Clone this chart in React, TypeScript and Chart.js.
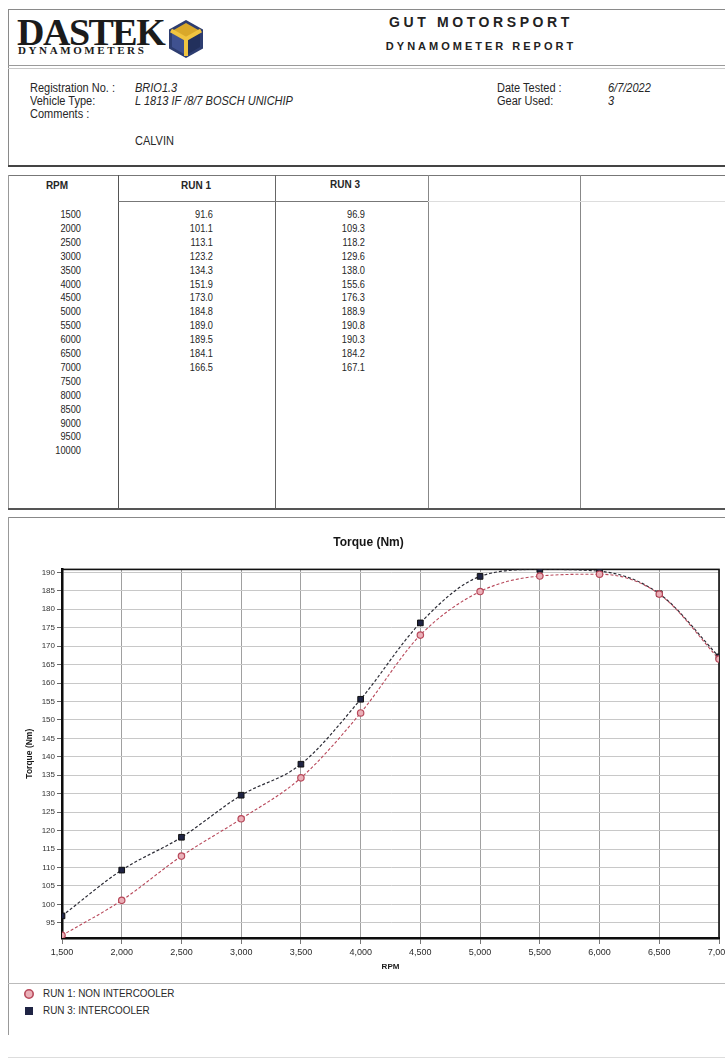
import React, { useEffect, useRef } from "react";
import { Chart, registerables } from "chart.js";

Chart.register(...registerables);

// Torque measurements (Nm) per engine speed
const RPM = [1500, 2000, 2500, 3000, 3500, 4000, 4500, 5000, 5500, 6000, 6500, 7000];
const RUN1_TORQUE = [91.6, 101.1, 113.1, 123.2, 134.3, 151.9, 173.0, 184.8, 189.0, 189.5, 184.1, 166.5];
const RUN3_TORQUE = [96.9, 109.3, 118.2, 129.6, 138.0, 155.6, 176.3, 188.9, 190.8, 190.3, 184.2, 167.1];

// Speed rows listed in the report table
const TABLE_RPM = [1500, 2000, 2500, 3000, 3500, 4000, 4500, 5000, 5500, 6000, 6500, 7000, 7500, 8000, 8500, 9000, 9500, 10000];

// Axis ticks
const X_TICKS = [1500, 2000, 2500, 3000, 3500, 4000, 4500, 5000, 5500, 6000, 6500, 7000];
const X_TICK_LABELS = ["1,500", "2,000", "2,500", "3,000", "3,500", "4,000", "4,500", "5,000", "5,500", "6,000", "6,500", "7,000"];
const Y_TICKS = [95, 100, 105, 110, 115, 120, 125, 130, 135, 140, 145, 150, 155, 160, 165, 170, 175, 180, 185, 190];

const RUN1_LABEL = "RUN 1: NON INTERCOOLER";
const RUN3_LABEL = "RUN 3: INTERCOOLER";

const NARROW = "'Liberation Sans Narrow', 'Liberation Sans', Arial, sans-serif";
const SANS = "'Liberation Sans', Arial, sans-serif";
const SERIF = "'Liberation Serif', 'DejaVu Serif', serif";

const RUN1_LINE = "#b8485a";
const RUN1_FILL = "#eab0b8";
const RUN3_LINE = "#2a2a34";
const RUN3_FILL = "#1f2444";

type TProps = {
  x: number;
  y: number;
  size?: number;
  bold?: boolean;
  italic?: boolean;
  align?: "left" | "right" | "center";
  font?: string;
  spacing?: number;
  color?: string;
  sx?: number;
  children: React.ReactNode;
};

function T({ x, y, size = 11, bold, italic, align = "left", font = NARROW, spacing = 0, color = "#262626", sx = 1, children }: TProps) {
  const tx = align === "left" ? "0" : align === "right" ? "-100%" : "-50%";
  const origin = align === "left" ? "left center" : align === "right" ? "right center" : "center center";
  return (
    <div
      style={{
        position: "absolute",
        left: x,
        top: y,
        transform: `translate(${tx}, -50%)`,
        fontFamily: font,
        fontSize: size,
        fontWeight: bold ? 700 : 400,
        fontStyle: italic ? "italic" : "normal",
        letterSpacing: spacing,
        color,
        whiteSpace: "nowrap",
        lineHeight: 1.2,
      }}
    >
      <div style={{ transform: `scaleX(${sx})`, transformOrigin: origin }}>{children}</div>
    </div>
  );
}

function HLine({ x, y, w, color = "#555", h = 1 }: { x: number; y: number; w: number; color?: string; h?: number }) {
  return <div style={{ position: "absolute", left: x, top: y, width: w, height: h, background: color }} />;
}

function VLine({ x, y, h, color = "#555", w = 1 }: { x: number; y: number; h: number; color?: string; w?: number }) {
  return <div style={{ position: "absolute", left: x, top: y, width: w, height: h, background: color }} />;
}

function Logo() {
  return (
    <>
      <T x={17} y={33} size={38} bold font={SERIF} spacing={-1.5} color="#1b1b1b">
        DASTEK
      </T>
      <T x={18} y={51} size={11} bold font={SERIF} spacing={2.6} color="#1b1b1b">
        DYNAMOMETERS
      </T>
      <svg style={{ position: "absolute", left: 166, top: 19 }} width={40} height={40} viewBox="0 0 40 40">
        <polygon points="20,1 37,10.5 37,29.5 20,39 3,29.5 3,10.5" fill="#2d3d70" />
        <polygon points="20,4 34,12 20,20 6,12" fill="#d9a82a" />
        <polygon points="6,14 18,21 18,35 6,28" fill="#3f5190" />
        <polygon points="34,14 22,21 22,35 34,28" fill="#22305c" />
        <path d="M20 20 L20 37 M20 20 L5 11.5 M20 20 L35 11.5" stroke="#f0c440" strokeWidth={4} fill="none" />
      </svg>
    </>
  );
}

function TorqueChart() {
  const ref = useRef<HTMLCanvasElement | null>(null);

  useEffect(() => {
    if (!ref.current) return;

    const framePlugin = {
      id: "plotFrame",
      beforeDatasetsDraw(chart: any) {
        const { ctx, chartArea } = chart;
        ctx.save();
        ctx.strokeStyle = "#111";
        ctx.lineWidth = 1.6;
        ctx.strokeRect(chartArea.left, chartArea.top, chartArea.right - chartArea.left, chartArea.bottom - chartArea.top);
        ctx.restore();
      },
    };

    const chart = new Chart(ref.current, {
      type: "line",
      data: {
        datasets: [
          {
            label: RUN1_LABEL,
            data: RPM.map((r, i) => ({ x: r, y: RUN1_TORQUE[i] })),
            borderColor: RUN1_LINE,
            borderWidth: 1.1,
            borderDash: [3, 2],
            pointStyle: "circle",
            pointRadius: 3.2,
            pointBorderWidth: 1.2,
            pointBackgroundColor: RUN1_FILL,
            pointBorderColor: RUN1_LINE,
            cubicInterpolationMode: "monotone",
          },
          {
            label: RUN3_LABEL,
            data: RPM.map((r, i) => ({ x: r, y: RUN3_TORQUE[i] })),
            borderColor: RUN3_LINE,
            borderWidth: 1.2,
            borderDash: [3, 2],
            pointStyle: "rect",
            pointRadius: 4,
            pointBorderWidth: 1,
            pointBackgroundColor: RUN3_FILL,
            pointBorderColor: "#111",
            cubicInterpolationMode: "monotone",
          },
        ],
      },
      options: {
        responsive: false,
        animation: false,
        layout: { padding: { left: 18, right: 6, top: 0, bottom: 2 } },
        plugins: {
          legend: { display: false },
          tooltip: { enabled: false },
          title: {
            display: true,
            text: "Torque (Nm)",
            color: "#161616",
            font: { family: SANS, size: 12, weight: "bold" },
            padding: { top: 15, bottom: 20 },
          },
        },
        scales: {
          x: {
            type: "linear",
            min: 1500,
            max: 7000,
            afterBuildTicks: (scale: any) => {
              scale.ticks = X_TICKS.map((v) => ({ value: v }));
            },
            afterFit: (scale: any) => {
              scale.height = 40;
              scale.paddingLeft = 0;
              scale.paddingRight = 0;
            },
            ticks: {
              autoSkip: false,
              maxRotation: 0,
              padding: 3,
              color: "#2a2a2a",
              font: { family: NARROW, size: 9 },
              callback: (v: any) => {
                const i = X_TICKS.indexOf(Number(v));
                return i >= 0 ? X_TICK_LABELS[i] : "";
              },
            },
            grid: { color: "#a0a0a0", lineWidth: 1, tickLength: 6, tickColor: "#777" },
            border: { color: "#000", width: 2.5 },
            title: {
              display: true,
              text: "RPM",
              color: "#1a1a1a",
              font: { family: NARROW, size: 8, weight: "bold" },
              padding: { top: 0, bottom: 6 },
            },
          },
          y: {
            min: 90.9,
            max: 190.8,
            afterBuildTicks: (scale: any) => {
              scale.ticks = Y_TICKS.map((v) => ({ value: v }));
            },
            afterFit: (scale: any) => {
              scale.width = 44;
            },
            ticks: {
              padding: 2,
              color: "#333",
              font: { family: NARROW, size: 8 },
            },
            grid: { color: "#c8c8c8", lineWidth: 1, tickLength: 5, tickColor: "#666" },
            border: { color: "#000", width: 2.5 },
            title: {
              display: true,
              text: "Torque (Nm)",
              color: "#1a1a1a",
              font: { family: NARROW, size: 8.5, weight: "bold" },
              padding: { top: 7, bottom: 2 },
            },
          },
        },
      },
      plugins: [framePlugin],
    } as any);

    return () => chart.destroy();
  }, []);

  return (
    <canvas
      ref={ref}
      width={725}
      height={460}
      style={{ position: "absolute", left: 0, top: 520, width: 725, height: 460 }}
    />
  );
}

export default function App() {
  const rowY = (i: number) => 214 + i * 13.9;
  return (
    <div
      style={{
        position: "absolute",
        left: 0,
        top: 0,
        width: 725,
        height: 1061,
        background: "#fff",
        overflow: "hidden",
      }}
    >
      {/* Header block */}
      <HLine x={8} y={9} w={717} color="#8a8a8a" />
      <VLine x={8} y={9} h={157} color="#8a8a8a" />
      <Logo />
      <T x={481} y={22} size={14} bold font={SANS} spacing={3.6} align="center" color="#222">
        GUT MOTORSPORT
      </T>
      <T x={481} y={47} size={11} bold font={SANS} spacing={3} align="center" color="#222">
        DYNAMOMETER REPORT
      </T>
      <HLine x={8} y={65} w={717} color="#9a9a9a" />
      <HLine x={8} y={68} w={717} color="#c8c8c8" />

      <T x={30} y={88} size={12.5} sx={0.88}>Registration No. :</T>
      <T x={30} y={101} size={12.5} sx={0.88}>Vehicle Type:</T>
      <T x={30} y={114} size={12.5} sx={0.88}>Comments :</T>
      <T x={135} y={88} size={12.5} sx={0.88} italic>BRIO1.3</T>
      <T x={135} y={101} size={12.5} sx={0.88} italic>L 1813 IF /8/7 BOSCH UNICHIP</T>
      <T x={135} y={141} size={12.5} sx={0.88}>CALVIN</T>
      <T x={497} y={88} size={12.5} sx={0.88}>Date Tested :</T>
      <T x={497} y={101} size={12.5} sx={0.88}>Gear Used:</T>
      <T x={608} y={88} size={12.5} sx={0.88} italic>6/7/2022</T>
      <T x={608} y={101} size={12.5} sx={0.88} italic>3</T>
      <HLine x={8} y={165} w={717} color="#444" h={2} />

      {/* Results table */}
      <HLine x={8} y={175} w={717} color="#777" />
      <VLine x={8} y={175} h={334} color="#999" />
      <VLine x={118} y={175} h={334} color="#555" />
      <VLine x={275} y={175} h={334} color="#666" />
      <VLine x={428} y={175} h={334} color="#888" />
      <VLine x={580} y={175} h={334} color="#888" />
      <HLine x={118} y={201} w={310} color="#777" />
      <HLine x={428} y={201} w={297} color="#ddd" />
      <T x={57} y={186} size={10} bold align="center">RPM</T>
      <T x={196} y={186} size={10} bold align="center">RUN 1</T>
      <T x={345} y={185} size={10} bold align="center">RUN 3</T>
      {TABLE_RPM.map((r, i) => (
        <T key={"rpm" + r} x={81} y={rowY(i)} size={10.5} sx={0.88} align="right">
          {String(r)}
        </T>
      ))}
      {RUN1_TORQUE.map((v, i) => (
        <T key={"r1" + i} x={213} y={rowY(i)} size={10.5} sx={0.88} align="right">
          {v.toFixed(1)}
        </T>
      ))}
      {RUN3_TORQUE.map((v, i) => (
        <T key={"r3" + i} x={365} y={rowY(i)} size={10.5} sx={0.88} align="right">
          {v.toFixed(1)}
        </T>
      ))}
      <HLine x={8} y={508} w={717} color="#555" h={1.5} />

      {/* Torque chart block */}
      <HLine x={8} y={517} w={717} color="#888" />
      <VLine x={8} y={517} h={518} color="#999" />
      <TorqueChart />
      <HLine x={8} y={983} w={717} color="#bbb" />

      {/* Legend */}
      <svg style={{ position: "absolute", left: 22, top: 988 }} width={14} height={30}>
        <circle cx={7} cy={6} r={4.2} fill={RUN1_FILL} stroke={RUN1_LINE} strokeWidth={1.6} />
        <rect x={3} y={19} width={8} height={8} fill={RUN3_FILL} />
      </svg>
      <T x={43} y={994} size={11} sx={0.9} color="#2a2a2a">{RUN1_LABEL}</T>
      <T x={43} y={1011} size={11} sx={0.9} color="#2a2a2a">{RUN3_LABEL}</T>
      <HLine x={8} y={1057} w={717} color="#ddd" />
    </div>
  );
}
